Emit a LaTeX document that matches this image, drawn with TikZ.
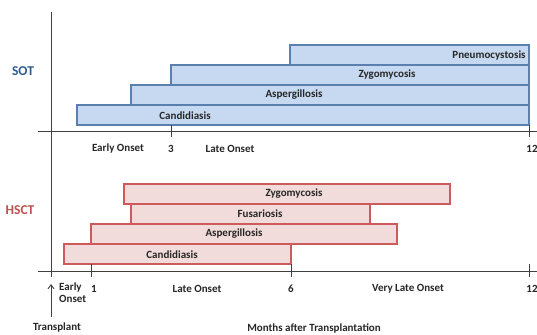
\documentclass[tikz,border=0pt]{standalone}
\usepackage{fontspec}
\setmainfont{Carlito}
\usetikzlibrary{arrows.meta}
\definecolor{sotfill}{HTML}{C6D9F0}
\definecolor{sotline}{HTML}{5B7FAF}
\definecolor{sotlab}{HTML}{2F5A8C}
\definecolor{hsfill}{HTML}{F2DCDB}
\definecolor{hsline}{HTML}{CD5B5B}
\definecolor{hslab}{HTML}{C0504D}
\definecolor{axcol}{HTML}{404040}
\definecolor{txt}{HTML}{262626}
\tikzset{
  sotbar/.style={draw=sotline, fill=sotfill, line width=1.1pt},
  hsbar/.style={draw=hsline, fill=hsfill, line width=1.1pt},
  axis/.style={draw=axcol, line width=0.9pt},
  lab/.style={font=\fontsize{11}{13}\selectfont\bfseries, text=txt, inner sep=0pt},
  big/.style={font=\fontsize{13.5}{15}\selectfont\bfseries, inner sep=0pt},
}
\begin{document}
\begin{tikzpicture}[x=1pt,y=-1pt]
\useasboundingbox (0,0) rectangle (537,334);
% SOT bars
\draw[sotbar] (290,45) rectangle (529,65);
\draw[sotbar] (171,65) rectangle (529,85);
\draw[sotbar] (131,85) rectangle (529,105);
\draw[sotbar] (77,105) rectangle (529,125);
\node[lab] (sp) at (489,56) {Pneumocystosis};
\node[lab] (sz) at (387,75) {Zygomycosis};
\node[lab] (sa) at (294,95) {Aspergillosis};
\node[lab] (sc) at (185,116) {Candidiasis};
% HSCT bars
\draw[hsbar] (124,184) rectangle (450,204);
\draw[hsbar] (131,204) rectangle (370,224);
\draw[hsbar] (91,224) rectangle (397,244);
\draw[hsbar] (64,244) rectangle (291,264);
\node[lab] (hz) at (294,194) {Zygomycosis};
\node[lab] (hf) at (260,214) {Fusariosis};
\node[lab] (ha) at (234,234) {Aspergillosis};
\node[lab] (hc) at (172,255) {Candidiasis};
% axes
\coordinate (vt) at (51,12);
\coordinate (vb) at (51,277);
\draw[axis] (vt) -- (vb);
\coordinate (a1l) at (38,131);
\coordinate (a1r) at (537,131);
\draw[axis] (a1l) -- (a1r);
\coordinate (a2l) at (38,271);
\coordinate (a2r) at (537,271);
\draw[axis] (a2l) -- (a2r);
% ticks
\draw[axis] (171,125) -- (171,137);
\draw[axis] (529,125) -- (529,137);
\draw[axis] (91,264) -- (91,277);
\draw[axis] (291,264) -- (291,277);
\draw[axis] (529,264) -- (529,277);
% group labels
\node[big, text=sotlab] (sot) at (23,71) {SOT};
\node[big, text=hslab] (hsct) at (20,210) {HSCT};
% SOT axis labels
\node[lab] (eo1) at (118,149) {Early Onset};
\node[lab] (t3) at (171,149) {3};
\node[lab] (lo1) at (230,149) {Late Onset};
\node[lab] (t12a) at (532,149) {12};
% HSCT axis labels
\node[lab, anchor=north west, align=left] (eo2) at (59,283) {Early\\[-1pt]Onset};
\node[lab] (t1) at (94,289) {1};
\node[lab] (lo2) at (197,289) {Late Onset};
\node[lab] (t6) at (291,289) {6};
\node[lab] (vlo) at (408,289) {Very Late Onset};
\node[lab] (t12b) at (532,289) {12};
% transplant arrow
\coordinate (at) at (51,317);
\coordinate (ah) at (51,284);
\draw[axis, -{Straight Barb[length=4pt,width=6pt]}] (at) -- (ah);
\node[lab] (tr) at (57,328) {Transplant};
\node[lab] (mo) at (314,328) {Months after Transplantation};
\end{tikzpicture}
\end{document}
